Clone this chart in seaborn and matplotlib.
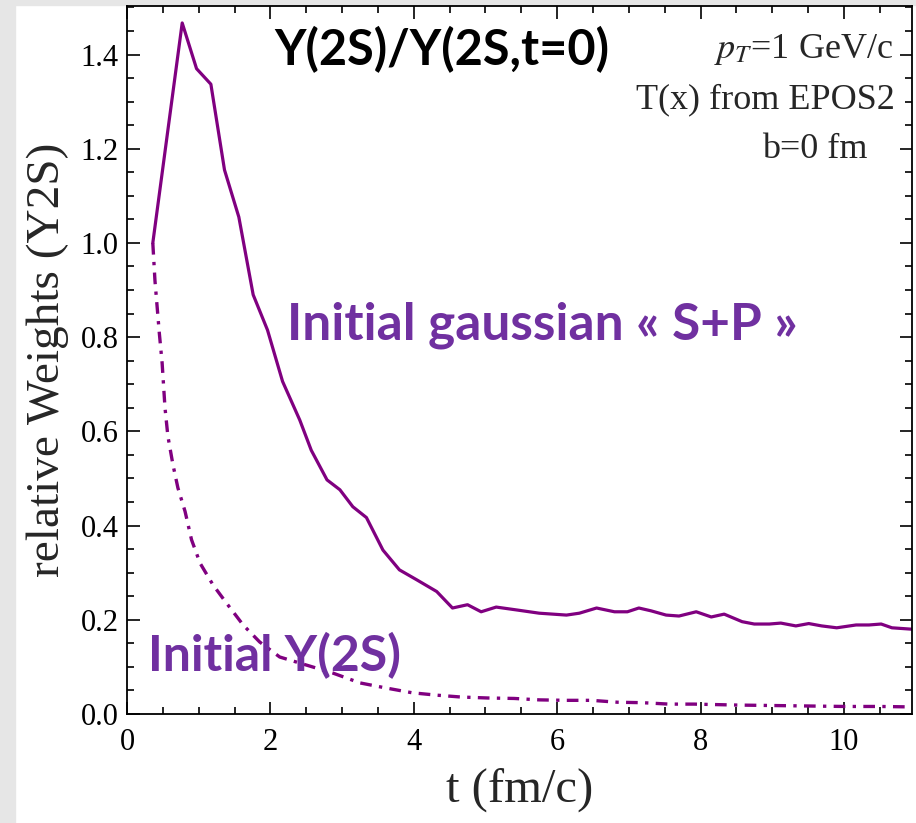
import numpy as np
import pandas as pd
import matplotlib
matplotlib.use("Agg")
import matplotlib.pyplot as plt
from matplotlib.patches import Rectangle
from matplotlib.ticker import MultipleLocator
import seaborn as sns

# Valeurs
t_sp = [0.36, 0.77, 0.97, 1.17, 1.36, 1.56, 1.76, 1.96, 2.17, 2.41, 2.57, 2.79, 2.97,
        3.15, 3.34, 3.57, 3.80, 4.04, 4.32, 4.54, 4.75, 4.94, 5.15, 5.43, 5.75, 6.13,
        6.31, 6.55, 6.80, 6.98, 7.14, 7.31, 7.52, 7.70, 7.94, 8.15, 8.33, 8.58, 8.75,
        8.96, 9.12, 9.33, 9.51, 9.69, 9.90, 10.17, 10.35, 10.52, 10.67, 10.95]
w_sp = [1.0, 1.467, 1.37, 1.337, 1.155, 1.055, 0.89, 0.815, 0.706, 0.624, 0.56, 0.497, 0.476,
        0.44, 0.417, 0.348, 0.306, 0.285, 0.26, 0.225, 0.232, 0.217, 0.227, 0.221, 0.214, 0.21,
        0.214, 0.225, 0.217, 0.217, 0.225, 0.219, 0.21, 0.208, 0.217, 0.206, 0.212, 0.196, 0.191,
        0.191, 0.193, 0.187, 0.192, 0.187, 0.183, 0.189, 0.189, 0.191, 0.183, 0.18]

t_2s = [0.36, 0.39, 0.45, 0.49, 0.53, 0.57, 0.64, 0.71, 0.81, 0.90, 1.02, 1.20, 1.39, 1.62,
        1.85, 2.13, 2.50, 2.87, 3.25, 3.62, 3.98, 4.32, 4.66, 5.03, 5.40, 5.75, 6.13, 6.48,
        6.84, 7.19, 7.56, 7.91, 8.5, 9.0, 9.5, 10.0, 10.5, 10.95]
w_2s = [1.0, 0.92, 0.81, 0.745, 0.65, 0.59, 0.53, 0.48, 0.43, 0.37, 0.32, 0.274, 0.235, 0.189,
        0.153, 0.121, 0.104, 0.087, 0.066, 0.055, 0.045, 0.04, 0.036, 0.034, 0.033, 0.030, 0.029, 0.029,
        0.025, 0.024, 0.021, 0.021, 0.019, 0.018, 0.017, 0.016, 0.016, 0.015]

df_sp = pd.DataFrame({'t': t_sp, 'w': w_sp})
df_2s = pd.DataFrame({'t': t_2s, 'w': w_2s})

sns.set_style('ticks')
plt.rcParams['font.family'] = ['Liberation Serif', 'DejaVu Serif']
plt.rcParams['mathtext.fontset'] = 'stix'

violet = '#800080'
violet_txt = '#7030A0'
sans_gras = ['Lato', 'DejaVu Sans']

fig = plt.figure(figsize=(9.16, 8.23), dpi=100)
fig.patch.set_facecolor('white')
# bandes grises du cadre
fig.add_artist(Rectangle((0, 0), 15 / 916, 1, transform=fig.transFigure, color='#e6e6e6', zorder=0))
fig.add_artist(Rectangle((0, 1 - 5 / 823), 1, 5 / 823, transform=fig.transFigure, color='#e6e6e6', zorder=0))

ax = fig.add_axes([127 / 916, 109 / 823, 785 / 916, 708 / 823])

sns.lineplot(data=df_sp, x='t', y='w', ax=ax, color=violet, lw=2.3, sort=False)
sns.lineplot(data=df_2s, x='t', y='w', ax=ax, color=violet, lw=2.4, sort=False,
             linestyle=(0, (3.5, 2.2, 1, 2.2)))

ax.set_xlim(0, 10.95)
ax.set_ylim(0, 1.503)
ax.xaxis.set_major_locator(MultipleLocator(2))
ax.xaxis.set_minor_locator(MultipleLocator(0.5))
ax.yaxis.set_major_locator(MultipleLocator(0.2))
ax.yaxis.set_minor_locator(MultipleLocator(0.05))
ax.yaxis.set_major_formatter(plt.FormatStrFormatter('%.1f'))
ax.tick_params(which='both', direction='in', top=True, right=True, width=1.2, colors='black', labelsize=22)
ax.tick_params(which='major', length=9)
ax.tick_params(which='minor', length=5)
ax.tick_params(axis='x', pad=10)
ax.tick_params(axis='y', pad=6)
for s in ax.spines.values():
    s.set_linewidth(1.3)
    s.set_color('black')

ax.set_xlabel('t (fm/c)', fontsize=35, labelpad=8)
ax.set_ylabel('relative Weights (Y2S)', fontsize=34, labelpad=8)

ax.text(0.401, 0.938, 'Y(2S)/Y(2S,t=0)', transform=ax.transAxes, ha='center', va='center',
        fontsize=35, fontweight='bold', family=sans_gras, color='black')
ax.text(0.976, 0.938, '$p_T$=1 GeV/c', transform=ax.transAxes, ha='right', va='center', fontsize=26)
ax.text(0.978, 0.867, 'T(x) from EPOS2', transform=ax.transAxes, ha='right', va='center', fontsize=26)
ax.text(0.944, 0.797, 'b=0 fm', transform=ax.transAxes, ha='right', va='center', fontsize=26)

ax.text(5.79, 0.826, 'Initial gaussian « S+P »', ha='center', va='center', fontsize=37,
        fontweight='bold', family=sans_gras, color=violet_txt)
ax.text(2.06, 0.125, 'Initial Y(2S)', ha='center', va='center', fontsize=36,
        fontweight='bold', family=sans_gras, color=violet_txt)

fig.savefig('out.png', dpi=100)
